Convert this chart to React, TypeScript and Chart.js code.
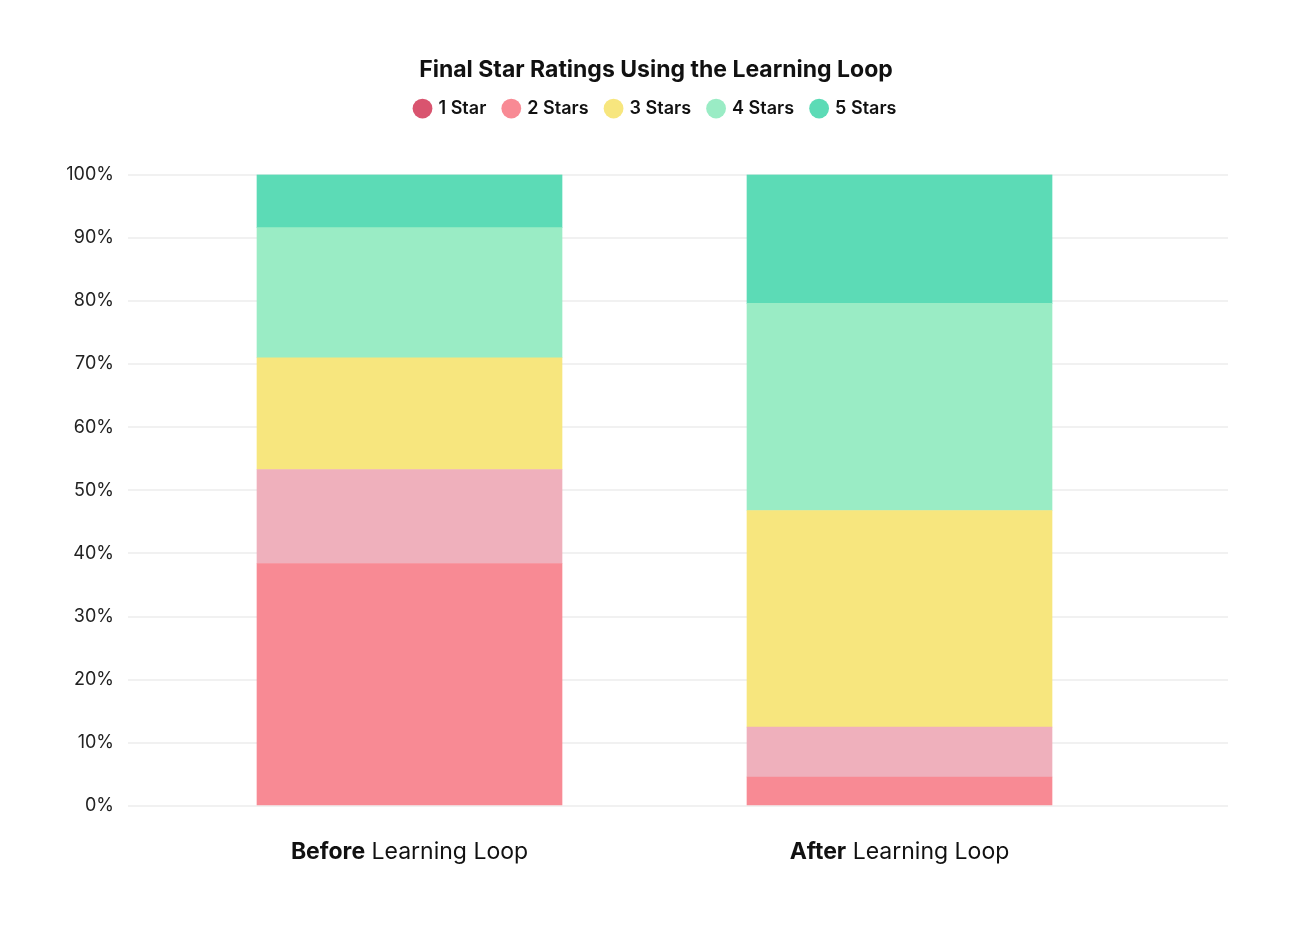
import React, { useEffect, useRef } from "react";
import { Chart, registerables } from "chart.js";

Chart.register(...registerables);

const categoriesBold = ["Before", "After"];
const categoriesRest = [" Learning Loop", " Learning Loop"];
const seriesNames = ["1 Star", "2 Stars", "3 Stars", "4 Stars", "5 Stars"];
const oneStar = [38.4, 4.6];
const twoStars = [14.9, 7.9];
const threeStars = [17.7, 34.3];
const fourStars = [20.6, 32.8];
const fiveStars = [8.4, 20.4];
const barColors = ["#f88a94", "#efb0bc", "#f7e67e", "#9aecc5", "#5cdbb6"];
const legendColors = ["#d9546f", "#f88a94", "#f7e67e", "#9aecc5", "#5cdbb6"];
const yTicks = [0, 10, 20, 30, 40, 50, 60, 70, 80, 90, 100];

const FONT = "Inter, 'Noto Sans', sans-serif";

export default function App() {
  const ref = useRef<HTMLCanvasElement | null>(null);

  useEffect(() => {
    document.body.style.margin = "0";
    const ctx = ref.current!.getContext("2d")!;
    const values = [oneStar, twoStars, threeStars, fourStars, fiveStars];
    const datasets = seriesNames.map((name, i) => ({
      label: name,
      data: values[i].map((v, j) => ({ x: j, y: v })),
      backgroundColor: barColors[i],
      borderWidth: 0,
      barThickness: 305,
    }));

    const legendGap = {
      id: "legendGap",
      beforeInit(chart: any) {
        const orig = chart.legend.fit;
        chart.legend.fit = function () {
          orig.bind(chart.legend)();
          this.height += 47;
        };
      },
    };

    const xLabels = {
      id: "xLabels",
      afterDraw(chart: any) {
        const c = chart.ctx;
        const xs = chart.scales.x;
        const y = chart.chartArea.bottom + 46;
        c.save();
        c.fillStyle = "#111";
        c.textBaseline = "middle";
        categoriesBold.forEach((b, i) => {
          const cx = xs.getPixelForValue(i);
          c.font = `700 23px ${FONT}`;
          const wb = c.measureText(b).width;
          c.font = `400 23px ${FONT}`;
          const wr = c.measureText(categoriesRest[i]).width;
          const start = cx - (wb + wr) / 2;
          c.textAlign = "left";
          c.font = `700 23px ${FONT}`;
          c.fillText(b, start, y);
          c.font = `400 23px ${FONT}`;
          c.fillText(categoriesRest[i], start + wb, y);
        });
        c.restore();
      },
    };

    const chart = new Chart(ctx, {
      type: "bar",
      data: { datasets: datasets as any },
      plugins: [legendGap, xLabels],
      options: {
        animation: false,
        responsive: false,
        layout: { padding: { top: 46, right: 0, bottom: 123, left: 0 } },
        plugins: {
          title: {
            display: true,
            text: "Final Star Ratings Using the Learning Loop",
            color: "#111",
            font: { family: FONT, size: 23, weight: "bold" },
            padding: { top: 10, bottom: -2 },
          },
          legend: {
            display: true,
            position: "top",
            labels: {
              usePointStyle: true,
              pointStyle: "circle",
              boxWidth: 14,
              boxHeight: 14,
              padding: 18,
              color: "#111",
              font: { family: FONT, size: 18, weight: 600 },
              generateLabels: () =>
                seriesNames.map((n, i) => ({
                  text: n,
                  fillStyle: legendColors[i],
                  strokeStyle: legendColors[i],
                  lineWidth: 0,
                  pointStyle: "circle",
                  hidden: false,
                  datasetIndex: i,
                  fontColor: "#111",
                })),
            },
          },
          tooltip: { enabled: false },
        },
        scales: {
          x: {
            type: "linear",
            stacked: true,
            offset: false,
            min: -0.5745,
            max: 1.6704,
            display: false,
            grid: { display: false },
          },
          y: {
            stacked: true,
            min: 0,
            max: 100,
            afterFit(scale: any) {
              scale.width = 128;
            },
            afterBuildTicks(scale: any) {
              scale.ticks = yTicks.map((v) => ({ value: v }));
            },
            border: { display: false },
            grid: { color: "#f1f1f1", lineWidth: 2, drawTicks: false },
            ticks: {
              padding: 14,
              color: "#222",
              font: { family: FONT, size: 18 },
              callback: (v: any) => v + "%",
            },
          },
          yRight: {
            type: "linear",
            position: "right",
            display: true,
            min: 0,
            max: 1,
            afterFit(scale: any) {
              scale.width = 84;
            },
            border: { display: false },
            grid: { display: false, drawTicks: false },
            ticks: { display: false },
          },
        },
      },
    } as any);
    return () => chart.destroy();
  }, []);

  return (
    <div style={{ width: 1312, height: 929 }}>
      <canvas ref={ref} width={1312} height={929} style={{ display: "block" }} />
    </div>
  );
}
